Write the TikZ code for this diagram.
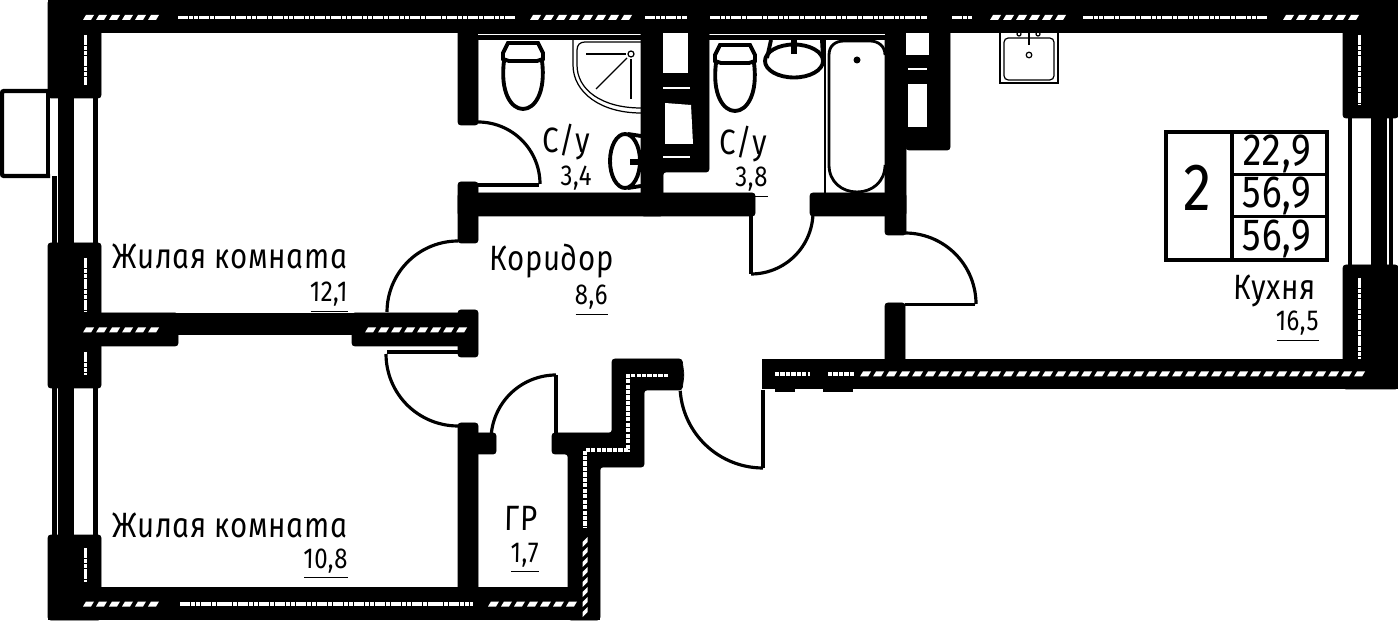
\documentclass[tikz,border=0pt]{standalone}
\usepackage{fontspec}
\newfontfamily\planfont[LetterSpace=2,FakeSlant=-0.1,FakeStretch=0.84]{Fira Sans Italic}
\def\doorarc(#1,#2)(#3:#4:#5){\draw[door] plot[domain=#3:#4,samples=30] ({#1+#5*cos(\x)},{#2+#5*sin(\x)});}
\def\hatchh(#1,#2,#3){\foreach \i in {0,...,#3}{\fill[white] ({#1+13*\i},#2+2.5) -- ({#1+13*\i+3},#2-2.5) -- ({#1+13*\i+11},#2-2.5) -- ({#1+13*\i+8},#2+2.5) -- cycle;}}
\def\hatchv(#1,#2,#3){\foreach \i in {0,...,#3}{\fill[white] (#1-2.5,{#2+10*\i+7}) -- (#1+2.5,{#2+10*\i+2}) -- (#1+2.5,{#2+10*\i+7}) -- (#1-2.5,{#2+10*\i+12}) -- cycle;}}
\tikzset{
	wall/.style={fill=black, draw=black, line width=0.2pt, rounded corners=0.8pt},
	strip/.style={draw=white, line width=1.1pt, dash pattern=on 1.3pt off 0.2pt},
	roughstrip/.style={draw=white, line width=1pt, dash pattern=on 1.2pt off 0.35pt},
	door/.style={draw=black, line width=0.9pt},
	fixture/.style={draw=black, line width=1.1pt},
	fineline/.style={draw=black, line width=0.35pt},
	gap/.style={draw=white, line width=0.3pt},
	roomlabel/.style={inner sep=0pt, anchor=base west, font=\planfont\fontsize{10}{12}\selectfont},
	arealabel/.style={inner sep=0pt, anchor=base east, font=\planfont\fontsize{8.2}{9}\selectfont},
	tablelabel/.style={inner sep=0pt, font=\planfont\fontsize{12.8}{14}\selectfont}
}
\begin{document}
\begin{tikzpicture}[x=0.01cm, y=-0.01cm]
		%%%%% START %%%%%
		\useasboundingbox (0, 0) rectangle (1398, 622);
		
		% outer walls
		\fill[black] (48, 0) rectangle (1398, 33);
		\fill[black] (48, 587) rectangle (600, 620);
		\fill[black] (762, 359) rectangle (1398, 389);
		\fill[black] (775, 389) rectangle (795, 392);
		\fill[black] (823, 389) rectangle (853, 392);
		\draw[wall] (48, 0) rectangle (101, 98);
		\draw[wall] (48, 243) rectangle (101, 388);
		\draw[wall] (48, 535) rectangle (101, 620);
		\draw[wall] (1343, 0) rectangle (1398, 118);
		\draw[wall] (1343, 265) rectangle (1398, 389);
		
		% windows and balcony
		\draw[black, line width=1.25pt, rounded corners=0.6pt] (48, 91) -- (2, 91) -- (2, 176) -- (50, 176);
		\fill[black] (58, 98) rectangle (74, 243);
		\fill[black] (93, 98) rectangle (98, 243);
		\fill[black] (46, 91) rectangle (50, 176);
		\fill[black] (52, 176) rectangle (57, 243);
		\fill[black] (52, 388) rectangle (57, 535);
		\fill[black] (58, 388) rectangle (74, 535);
		\fill[black] (93, 388) rectangle (98, 535);
		\fill[black] (1348, 118) rectangle (1352, 265);
		\fill[black] (1371, 118) rectangle (1387, 265);
		\fill[black] (1389, 118) rectangle (1393, 265);
		
		% inner walls
		\fill[black] (48, 313) rectangle (478, 335);
		\draw[wall] (95, 313) rectangle (178, 346);
		\draw[wall] (352, 313) rectangle (470, 346);
		\draw[wall] (458, 310) rectangle (478, 357);
		\draw[wall] (458, 28) rectangle (478, 125);
		\draw[wall] (458, 182) rectangle (478, 243);
		\draw[wall] (458, 193) rectangle (755, 216);
		\draw[wall] (810, 193) rectangle (906, 216);
		\draw[wall] (885, 28) rectangle (906, 235);
		\draw[wall] (885, 303) rectangle (905, 365);
		\draw[wall] (458, 423) rectangle (478, 592);
		\draw[wall] (470, 433) rectangle (496, 454);
		\fill[black] (478, 33) rectangle (641, 40);
		\fill[black] (709, 33) rectangle (885, 40);
		\draw[gap] (478, 34.5) -- (641, 34.5);
		\draw[gap] (709, 34.5) -- (885, 34.5);
		
		% stepped wall by the entrance
		\draw[wall] (612, 359) -- (682, 359) -- (684, 375) -- (682, 390) -- (644, 390) -- (644, 467) -- (600, 467) -- (600, 620) -- (568, 620) -- (568, 454) -- (552, 454) -- (552, 433) -- (612, 433) -- cycle;
		
		% shafts
		\draw[wall] (641, 28) -- (709, 28) -- (709, 172) -- (663, 172) -- (663, 216) -- (641, 216) -- cycle;
		\fill[white] (663, 33) rectangle (688, 73);
		\fill[white] (665, 103) -- (691, 105) -- (693, 144) -- (665, 144) -- cycle;
		\draw[gap] (663, 88) -- (690, 88);
		\draw[gap] (663, 157) -- (690, 157);
		\draw[wall] (906, 28) -- (950, 28) -- (950, 150) -- (906, 150) -- cycle;
		\fill[white] (906, 33) rectangle (929, 55);
		\fill[white] (908, 84) rectangle (927, 127);
		\draw[gap] (908, 69) -- (927, 69);
		
		% insulation in the walls
		\hatchh(83, 17.5, 5)
		\draw[strip] (178, 17.5) -- (515, 17.5);
		\hatchh(530, 17.5, 7)
		\draw[strip] (645, 17.5) -- (687, 17.5);
		\draw[strip] (710, 17.5) -- (927, 17.5);
		\draw[strip] (952, 17.5) -- (973, 17.5);
		\hatchh(990, 17.5, 5)
		\draw[strip] (1083, 17.5) -- (1267, 17.5);
		\hatchh(1283, 17.5, 5)
		\draw[strip] (85.5, 35) -- (85.5, 85);
		\draw[strip] (85.5, 258) -- (85.5, 312);
		\draw[strip] (85.5, 352) -- (85.5, 375);
		\draw[strip] (85.5, 548) -- (85.5, 582);
		\draw[strip] (1359.5, 35) -- (1359.5, 105);
		\draw[strip] (1359.5, 278) -- (1359.5, 359);
		\hatchh(83, 330, 5)
		\hatchh(365, 330, 7)
		\hatchh(83, 604, 5)
		\draw[strip] (180, 604) -- (473, 604);
		\hatchh(488, 604, 6)
		\draw[roughstrip] (775, 374) -- (810, 374);
		\draw[roughstrip] (828, 374) -- (855, 374);
		\hatchh(860, 374, 38)
		\draw[roughstrip] (668, 375.5) -- (628, 375.5) -- (628, 450) -- (585, 450) -- (585, 528);
		\hatchv(585, 535, 7)
		
		% doors
		\doorarc(458,312)(180:270:71)
		\doorarc(458,354)(90:180:72)
		\draw[door] (387, 352) -- (458, 352);
		\doorarc(556,440)(186:270:65)
		\draw[door] (556, 375) -- (556, 433);
		\doorarc(763,385)(90:176:83)
		\draw[door] (763, 390) -- (763, 468);
		\doorarc(905,304)(270:360:71)
		\draw[door] (905, 304.5) -- (975, 304.5);
		\doorarc(478,184)(270:360:62)
		\draw[door] (478, 185) -- (539, 185);
		\doorarc(751,212)(0:90:62)
		\draw[door] (751, 216) -- (751, 274);
		
		% toilets
		\foreach \tx/\ty in {523/42, 735/44} {
			\begin{scope}[shift={(\tx, \ty)}]
				\draw[fixture] (-15, 1) -- (15, 1) -- (20, 11) -- (20, 17) -- (14, 19) -- (-14, 19) -- (-20, 17) -- (-20, 11) -- cycle;
				\draw[fixture] (-19, 19) .. controls (-23, 50) and (-12, 67) .. (0, 67) .. controls (12, 67) and (23, 50) .. (19, 19);
			\end{scope}
		}
		
		% shower
		\draw[fineline] (573, 40) -- (573, 65) .. controls (573, 92) and (600, 113) .. (641, 113);
		\draw[fineline] (641, 42) -- (585, 42) .. controls (580, 42) and (577, 45) .. (577, 50) -- (577, 65) .. controls (577, 90) and (602, 108) .. (641, 108);
		\draw[fineline] (586, 54) -- (626, 54);
		\draw[fineline] (631, 54) circle (3);
		\draw[fineline] (631, 59) -- (631, 99);
		\draw[fineline] (627, 58) -- (596, 89);
		
		% washbasins
		\draw[fixture] (625, 161) circle [x radius=15, y radius=27];
		\draw[fixture] (628, 134) -- (641, 136);
		\draw[fixture] (628, 188) -- (641, 186);
		\draw[black, line width=1.5pt] (630, 162) -- (641, 162);
		\draw[fixture] (794, 61) circle [x radius=29, y radius=16.5];
		\draw[fixture] (771, 40) -- (767, 58);
		\draw[fixture] (822, 40) -- (823, 58);
		\draw[black, line width=1.5pt] (794, 40) -- (794, 54);
		
		% bath
		\draw[black, line width=0.8pt] (825, 40) -- (825, 193);
		\draw[black, line width=0.8pt] (885, 55) .. controls (885, 46) and (878, 41) .. (870, 41) -- (844, 41) .. controls (835, 41) and (829, 46) .. (829, 55) -- (829, 165) .. controls (829, 182) and (842, 192) .. (857, 192) .. controls (872, 192) and (885, 182) .. (885, 165);
		\fill[black] (857, 60) circle (3.5);
		
		% kitchen sink
		\draw[fineline] (1000, 33) -- (1000, 83) -- (1058, 83) -- (1058, 33);
		\draw[fineline, rounded corners=1.2pt] (1004, 38) rectangle (1054, 80);
		\draw[fineline, line width=0.6pt] (1029, 33) -- (1029, 45);
		\draw[fineline] (1029, 55) circle (2.8);
		\draw[fineline] (1019, 34) circle (2);
		\draw[fineline] (1038, 34) circle (2);
		
		% table
		\draw[black, line width=1.25pt] (1166, 132) rectangle (1327, 260);
		\draw[black, line width=1.1pt] (1232, 132) -- (1232, 260);
		\draw[black, line width=1.1pt] (1232, 174.5) -- (1327, 174.5);
		\draw[black, line width=1.1pt] (1232, 216.5) -- (1327, 216.5);
		\node[inner sep=0pt, font=\planfont\fontsize{19}{21}\selectfont, anchor=base] (flatrooms) at (1199, 211) {2};
		\node[tablelabel, anchor=base] (livingarea) at (1278, 166) {22,9};
		\node[tablelabel, anchor=base] (flatarea) at (1278, 208) {56,9};
		\node[tablelabel, anchor=base] (totalarea) at (1278, 251) {56,9};
		
		% labels
		\node[roomlabel] (roomone) at (113, 269) {Жилая комната};
		\node[arealabel] (roomonearea) at (349, 302) {\underline{12,1}};
		\node[roomlabel] (roomtwo) at (113, 537) {Жилая комната};
		\node[arealabel] (roomtwoarea) at (349, 568) {\underline{10,8}};
		\node[roomlabel] (corridor) at (490, 271) {Коридор};
		\node[arealabel] (corridorarea) at (609, 305) {\underline{8,6}};
		\node[roomlabel] (bathone) at (543, 153) {С/у};
		\node[arealabel] (bathonearea) at (593, 186) {\underline{3,4}};
		\node[roomlabel] (bathtwo) at (720, 155) {С/у};
		\node[arealabel] (bathtwoarea) at (769, 187) {\underline{3,8}};
		\node[roomlabel] (wardrobe) at (505, 530) {ГР};
		\node[arealabel] (wardrobearea) at (540, 562) {\underline{1,7}};
		\node[roomlabel] (kitchen) at (1234, 300) {Кухня};
		\node[arealabel] (kitchenarea) at (1320, 331) {\underline{16,5}};
		%%%%% END %%%%%
	\end{tikzpicture}
\end{document}
